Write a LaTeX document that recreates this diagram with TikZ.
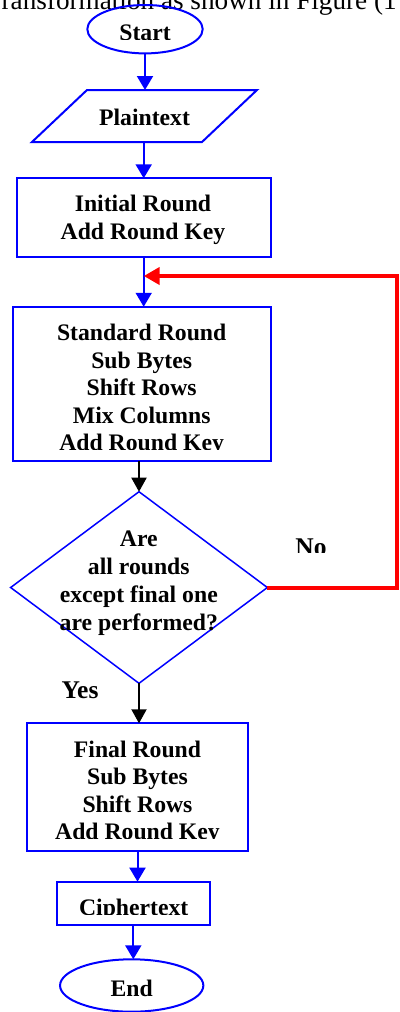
\documentclass[tikz,border=0pt]{standalone}
\usepackage{fontspec}
\setmainfont{Liberation Serif}
\usetikzlibrary{shapes.geometric,arrows.meta}

\begin{document}
\begin{tikzpicture}[x=1pt,y=-1pt,
  every node/.style={inner sep=0pt, outer sep=0pt},
  flow/.style={draw=blue, line width=2pt},
  procbox/.style={flow, rectangle},
  termbox/.style={flow, ellipse},
  decbox/.style={draw=blue, line width=1.5pt, diamond},
  lbl/.style={font=\fontsize{23.7}{27.5}\selectfont\bfseries, align=center, anchor=base},
  dlbl/.style={font=\fontsize{23.7}{28}\selectfont\bfseries, align=center, anchor=base},
  branch/.style={font=\fontsize{25.5}{28}\selectfont\bfseries, anchor=base},
  barrow/.style={draw=blue, line width=2pt, -{Triangle[width=16pt,length=14pt]}},
  karrow/.style={draw=black, line width=2pt, -{Triangle[width=15pt,length=14pt]}},
  rarrow/.style={draw=red, line width=4pt, line join=miter, -{Triangle[width=17pt,length=16pt]}},
]
\useasboundingbox (0,0) rectangle (399,1012);

% running text above the chart
\node[anchor=base west, font=\fontsize{27.2}{30}\selectfont] (caption) at (-14,9.5) {Transformation as shown in Figure (1};

% shapes
\node[termbox, minimum width=115.4pt, minimum height=48.4pt] (start) at (145,29.2) {};
\node[minimum width=225pt, minimum height=52pt] (plain) at (144.5,116) {};
\draw[flow, line join=miter] ([xshift=55pt]plain.north west) -- (plain.north east)
  -- ([xshift=-55pt]plain.south east) -- (plain.south west) -- cycle;
\node[procbox, minimum width=254pt, minimum height=79pt] (init) at (143.7,217.8) {};
\node[procbox, minimum width=258.3pt, minimum height=154.3pt] (std) at (141.8,383.9) {};
\node[decbox, minimum width=256.7pt, minimum height=191.6pt] (dia) at (139,587.5) {};
\node[procbox, minimum width=221.6pt, minimum height=127.4pt] (final) at (137.5,787) {};
\node[procbox, minimum width=153.3pt, minimum height=43.3pt] (cipher) at (133.3,903.3) {};
\node[termbox, minimum width=143.3pt, minimum height=52.4pt] (end) at (131.7,985.5) {};

% texts, placed by the baseline of their last line
% (text boxes cut their last line at the lower inner margin)
\begin{scope}
  \clip (0,0) rectangle (399,39.5);
  \node[lbl] (tstart) at (145,40.7) {Start};
\end{scope}
\node[lbl] (tplain) at (144.5,125.5) {Plaintext};
\node[lbl] (tinit) at (143,239.2) {Initial Round\\Add Round Key};
\begin{scope}
  \clip (0,0) rectangle (399,449);
  \node[lbl] (tstd) at (141.7,450.5) {Standard Round\\Sub Bytes\\Shift Rows\\Mix Columns\\Add Round Key};
\end{scope}
\node[dlbl] (tdia) at (138.8,630.7) {Are\\all rounds\\except final one\\are performed?};
\begin{scope}
  \clip (0,0) rectangle (399,838.5);
  \node[lbl] (tfinal) at (137.5,839.5) {Final Round\\Sub Bytes\\Shift Rows\\Add Round Key};
\end{scope}
\begin{scope}
  \clip (0,0) rectangle (399,914.3);
  \node[lbl] (tcipher) at (133.7,915) {Ciphertext};
\end{scope}
\node[lbl] (tend) at (131.7,996.7) {End};

% branch labels
\begin{scope}
  \clip (0,0) rectangle (399,552.3);
  \node[branch] (no) at (311,555) {No};
\end{scope}
\node[branch] (yes) at (80,698.3) {Yes};

% connectors
\draw[barrow] (start.south) -- (start.south |- plain.north);
\draw[barrow] (init.north |- plain.south) -- (init.north);
\draw[barrow] (init.south) -- (init.south |- std.north);
\draw[karrow] (std.south -| dia.north) -- (dia.north);
\draw[karrow] (dia.south) -- (dia.south |- final.north);
\draw[barrow] (final.south) -- (final.south |- cipher.north);
\draw[barrow] (cipher.south) -- (cipher.south |- end.north);

% loop back for the next standard round
\coordinate (loop) at (397,276);
\draw[rarrow] (dia.east) -| (loop) -- (loop -| init.south);
\end{tikzpicture}
\end{document}
